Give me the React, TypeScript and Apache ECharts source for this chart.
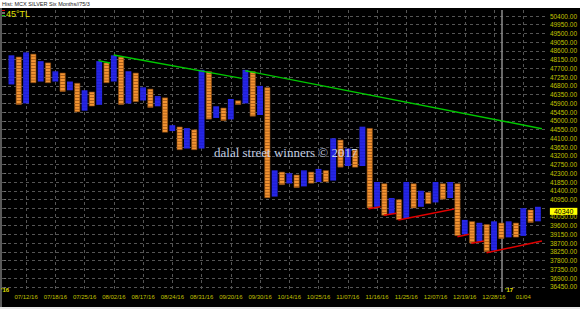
import React, { useEffect, useRef } from "react";
import * as echarts from "echarts";

// Point & Figure columns (box 75, reversal 3). Column 1 is the leftmost.
const columnKinds = "XOXOXOXOXOXOXOXOXOXOXOXOXOXOXOXOXOXOXOXOXOXOXOXOXOXOXOXOXOXOXOXOXOXOXOXOX";
const columnHighs = [
  48375, 48300, 48525, 48450, 48075, 48000, 47550, 47475, 47025, 46950,
  46575, 46500, 48075, 48000, 48375, 48300, 47550, 47475, 46725, 46650,
  46275, 46200, 44775, 44700, 44625, 44550, 47625, 47550, 45750, 45675,
  46125, 46050, 47625, 47550, 46800, 46725, 42450, 42375, 42300, 42225,
  42450, 42375, 42525, 42450, 44100, 44025, 43575, 43500, 44700, 44625,
  41850, 41775, 41025, 40950, 41850, 41775, 41400, 41325, 41850, 41775,
  41850, 41775, 39900, 39825, 39750, 39675, 39825, 39750, 39825, 39750,
  40500, 40425, 40575,
];
const columnLows = [
  46875, 45825, 45900, 46950, 47025, 46950, 47025, 46500, 46575, 45450,
  45525, 45750, 45825, 46950, 47025, 45825, 45900, 45975, 46050, 45675,
  45750, 44400, 44475, 43500, 43575, 43500, 43575, 45075, 45150, 45000,
  45075, 45825, 45900, 45225, 45300, 41025, 41100, 41700, 41775, 41550,
  41625, 41775, 41850, 41850, 41925, 42600, 42675, 42600, 42675, 40500,
  40575, 40125, 40200, 39900, 39975, 40500, 40575, 40725, 40800, 40950,
  41025, 39075, 39150, 38700, 38775, 38250, 38325, 38925, 39000, 39000,
  39075, 39750, 39825,
];
const boxSize = 75;
const currentPrice = 40340;

// 45-degree trend lines: [fromColumn, fromPrice, toColumn, toPrice]
const resistanceLines = [
  [12.9, 48100, 14.5, 47980],
  [14.98, 48391, 32.5, 47190],
  [32.98, 47583, 73.55, 44596],
];
const supportLines = [
  [49.84, 40476, 51.48, 40579],
  [51.92, 40136, 53.65, 40239],
  [53.92, 39894, 61.54, 40460],
  [61.99, 39034, 63.58, 39158],
  [63.89, 38694, 65.62, 38812],
  [65.97, 38210, 73.55, 38812],
];

const dateTickColumns = [3, 7, 11, 15, 19, 23, 27, 31, 35, 39, 43, 47, 51, 55, 59, 63, 67, 71];
const dateTickLabels = [
  "07/12/16", "07/18/16", "07/25/16", "08/02/16", "08/17/16", "08/24/16",
  "08/31/16", "09/20/16", "09/30/16", "10/14/16", "10/25/16", "11/07/16",
  "11/16/16", "11/25/16", "12/07/16", "12/19/16", "12/28/16", "01/04",
];
const yearStartColumn = 68;

const priceTicks = [
  36450, 36900, 37350, 37800, 38250, 38700, 39150, 39600, 40050, 40500,
  40950, 41400, 41850, 42300, 42750, 43200, 43650, 44100, 44550, 45000,
  45450, 45900, 46350, 46800, 47250, 47700, 48150, 48600, 49050, 49500,
  49950, 50400,
];

export default function App() {
  const ref = useRef<HTMLDivElement>(null);
  useEffect(() => {
    const chart = echarts.init(ref.current!, null, { renderer: "svg" });
    const colData = columnHighs.map((h, i) => [i + 1, columnLows[i], h, columnKinds[i] === "X" ? 0 : 1]);
    const labelMap: Record<number, string> = {};
    dateTickColumns.forEach((c, i) => (labelMap[c] = dateTickLabels[i]));

    const lineSeries = (lines: number[][], color: string) =>
      lines.map((l) => ({
        type: "line",
        data: [
          [l[0], l[1]],
          [l[2], l[3]],
        ],
        showSymbol: false,
        symbol: "none",
        silent: true,
        z: 4,
        lineStyle: { color, width: 1.4 },
      }));

    const option: any = {
      animation: false,
      backgroundColor: "#000",
      grid: { left: 2, right: 30, top: 10, bottom: 17 },
      xAxis: {
        type: "value",
        min: -0.292,
        max: 74.23,
        axisLine: { show: false },
        axisTick: { show: false, customValues: dateTickColumns },
        axisLabel: {
          customValues: dateTickColumns,
          formatter: (v: number) => labelMap[Math.round(v)] || "",
          color: "#c0c000",
          fontSize: 6,
          fontFamily: "Liberation Sans",
          margin: 2,
        },
        splitLine: { show: true, lineStyle: { color: "#555", type: [3, 3], width: 1 } },
      },
      yAxis: {
        type: "value",
        position: "right",
        min: 36186,
        max: 50709,
        axisLine: { show: false },
        axisTick: { show: true, length: 2, customValues: priceTicks, lineStyle: { color: "#777" } },
        axisLabel: {
          customValues: priceTicks,
          formatter: (v: number) => (Math.abs(v - currentPrice) < 225 ? "" : v.toFixed(2)),
          color: "#c0c000",
          fontSize: 6.5,
          fontFamily: "Liberation Sans",
          margin: 3,
        },
        splitLine: { show: true, lineStyle: { color: "#555", type: [3, 3], width: 1 } },
      },
      series: [
        {
          type: "line",
          data: [],
          z: 1,
          markLine: {
            z: 1,
            silent: true,
            symbol: "none",
            label: { show: false },
            lineStyle: { color: "#8c8c8c", width: 1.5, type: "solid" },
            data: [{ xAxis: yearStartColumn }],
          },
        },
        {
          type: "custom",
          z: 2,
          data: colData,
          encode: { x: 0, y: [1, 2] },
          renderItem: (_p: any, api: any) => {
            const idx = api.value(0);
            const lo = api.value(1);
            const hi = api.value(2);
            const isX = api.value(3) === 0;
            const pt = api.coord([idx, hi]);
            const pb = api.coord([idx, lo]);
            const w = api.size([1, 0])[0] * 0.8;
            const x0 = pt[0] - w / 2;
            const children: any[] = [];
            if (isX) {
              children.push({
                type: "rect",
                shape: { x: x0, y: pt[1], width: w, height: pb[1] - pt[1] },
                style: { fill: "#2626e6" },
              });
              for (let p = lo + 2 * boxSize; p < hi; p += 2 * boxSize) {
                const c = api.coord([idx, p]);
                children.push({
                  type: "rect",
                  shape: { x: x0, y: c[1] - 0.4, width: w, height: 0.8 },
                  style: { fill: "#12129a", opacity: 0.35 },
                });
              }
            } else {
              children.push({
                type: "rect",
                shape: { x: x0 + 0.3, y: pt[1] + 0.3, width: w - 0.6, height: pb[1] - pt[1] - 0.6 },
                style: { fill: "#f49432", stroke: "#8a4a12", lineWidth: 0.6 },
              });
              for (let p = hi - 2 * boxSize; p > lo; p -= 2 * boxSize) {
                const c = api.coord([idx, p]);
                children.push({
                  type: "rect",
                  shape: { x: x0 + 0.6, y: c[1] - 0.35, width: w - 1.2, height: 0.7 },
                  style: { fill: "#7a3c0a", opacity: 0.8 },
                });
              }
            }
            return { type: "group", children };
          },
        },
        {
          type: "line",
          data: [],
          z: 6,
          markLine: {
            z: 6,
            silent: true,
            symbol: "none",
            lineStyle: { color: "rgba(0,0,0,0)", width: 0 },
            label: {
              show: true,
              position: "end",
              distance: 3,
              formatter: String(currentPrice),
              backgroundColor: "#ffff00",
              color: "#000",
              fontSize: 7,
              fontFamily: "Liberation Sans",
              lineHeight: 7,
              padding: [0, 4, 0, 4],
            },
            data: [{ yAxis: currentPrice }],
          },
        },
        ...lineSeries(resistanceLines, "#00c800"),
        ...lineSeries(supportLines, "#e00000"),
      ],
      graphic: [
        { type: "rect", z: 100, shape: { x: 0, y: 0, width: 580, height: 8 }, style: { fill: "#ffffff" } },
        { type: "rect", z: 100, shape: { x: 0, y: 307, width: 580, height: 2 }, style: { fill: "#e8e8e8" } },
        {
          type: "text", z: 101, x: 2, y: 1,
          style: { text: "Hist: MCX SILVER Six Months//75/3", font: '5.5px "Liberation Sans"', fill: "#222", verticalAlign: "top" },
        },
        { type: "line", z: 100, shape: { x1: 1, y1: 8, x2: 1, y2: 307 }, style: { stroke: "#777", lineWidth: 1.5 } },
        { type: "line", z: 100, shape: { x1: 2, y1: 10.5, x2: 5, y2: 10.5 }, style: { stroke: "#e00000", lineWidth: 1 } },
        { type: "line", z: 100, shape: { x1: 2, y1: 13, x2: 5, y2: 13 }, style: { stroke: "#dddddd", lineWidth: 1 } },
        { type: "line", z: 100, shape: { x1: 2, y1: 15.5, x2: 5, y2: 15.5 }, style: { stroke: "#00c800", lineWidth: 1 } },
        {
          type: "text", z: 101, x: 6, y: 9,
          style: { text: "45°TL", font: '9px "Liberation Sans"', fill: "#e0e000", verticalAlign: "top" },
        },
        {
          type: "text", z: 101, x: 1, y: 287,
          style: { text: "'16", font: 'bold 6px "Liberation Sans"', fill: "#e0e000", verticalAlign: "top" },
        },
        {
          type: "text", z: 101, x: 505, y: 287,
          style: { text: "'17", font: 'bold 6px "Liberation Sans"', fill: "#e0e000", verticalAlign: "top" },
        },
        {
          type: "text", z: 101, x: 214, y: 146,
          style: { text: "dalal street winners © 2017", font: '13px "Liberation Serif"', fill: "#c4cfe2", verticalAlign: "top" },
        },
      ],
    };
    chart.setOption(option);
    return () => chart.dispose();
  }, []);
  return <div ref={ref} style={{ position: "fixed", left: 0, top: 0, width: 580, height: 309 }} />;
}
